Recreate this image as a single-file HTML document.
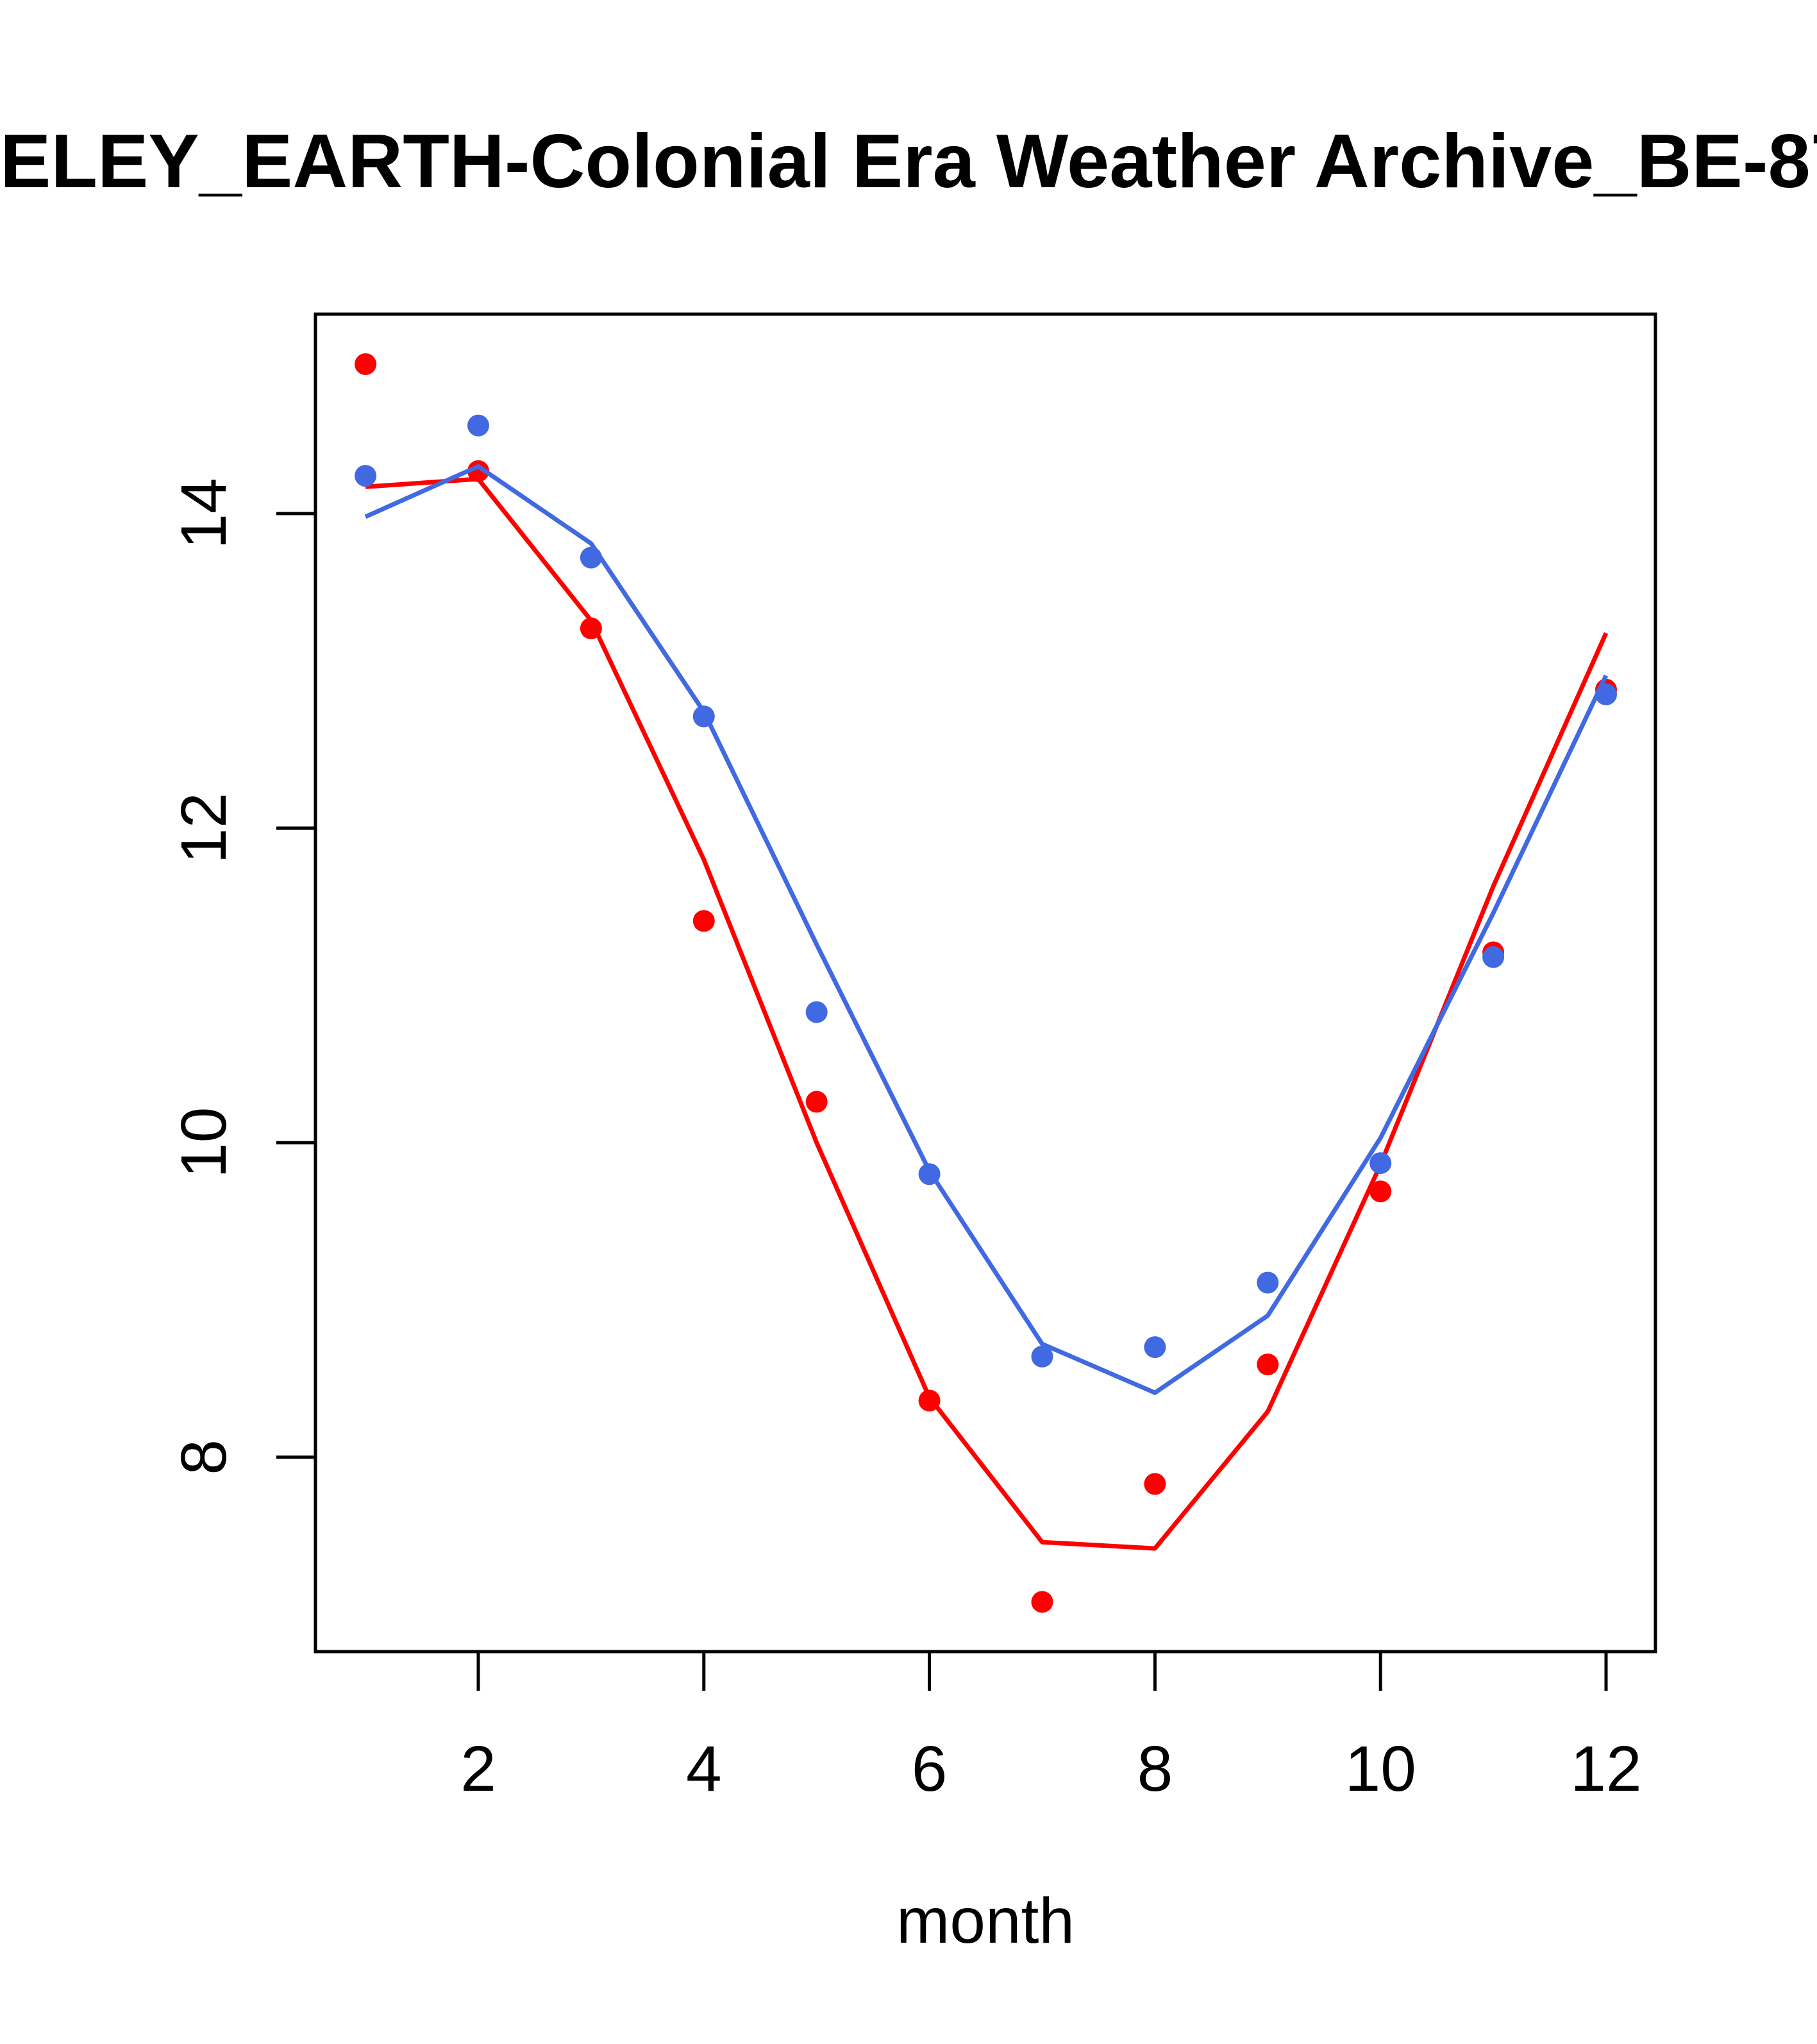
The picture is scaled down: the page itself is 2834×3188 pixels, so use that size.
<!DOCTYPE html>
<html><head><meta charset="utf-8"><style>
html,body{margin:0;padding:0;background:#fff;}
svg{display:block;font-family:"Liberation Sans",Arial,sans-serif;}
</style></head><body>
<svg id="chart" width="2834" height="3188" viewBox="0 0 2834 3188">
<rect width="2834" height="3188" fill="#fff"/>
<text id="title" x="-337" y="292" font-size="119" font-weight="bold" text-anchor="start">BERKELEY_EARTH-Colonial Era Weather Archive_BE-875632</text>
<rect x="492" y="490" width="2090" height="2086" fill="none" stroke="#000" stroke-width="5"/>
<g id="xaxis"></g>
<g id="yaxis"></g>
<text x="1537" y="3030" font-size="100" text-anchor="middle">month</text>
<g id="series"></g>
</svg>
<script>
const months=[1,2,3,4,5,6,7,8,9,10,11,12];
const redPoints=[14.95,14.27,13.27,11.41,10.26,8.36,7.08,7.83,8.59,9.69,11.21,12.88];
const redLine=[14.17,14.22,13.32,11.80,10.00,8.38,7.46,7.42,8.29,9.86,11.63,13.24];
const bluePoints=[14.24,14.56,13.72,12.71,10.83,9.80,8.64,8.70,9.11,9.87,11.18,12.85];
const blueLine=[13.98,14.30,13.81,12.74,11.26,9.82,8.72,8.41,8.90,10.03,11.46,12.97];
const xTicks=[2,4,6,8,10,12];
const yTicks=[8,10,12,14];

const NS="http://www.w3.org/2000/svg";
try{const t=document.getElementById('title');const w=t.getSubStringLength(0,4);if(w>0)t.setAttribute('x',-w);}catch(e){}
function X(m){return 746+(m-2)*175.9;}
function Y(v){return 801+(14-v)*245.3;}
function mk(tag,attrs,parent){const e=document.createElementNS(NS,tag);for(const k in attrs)e.setAttribute(k,attrs[k]);parent.appendChild(e);return e;}

const xa=document.getElementById('xaxis');
mk('line',{x1:X(2),x2:X(12),y1:2576,y2:2576,stroke:'#000','stroke-width':5},xa);
xTicks.forEach(t=>{
  const l=mk('line',{x1:X(t),x2:X(t),y1:2576,y2:2637,stroke:'#000','stroke-width':5},xa);
  
  
  const tx=mk('text',{x:X(t),y:2793,'font-size':100,'text-anchor':'middle'},xa);
  tx.textContent=t;
  
  
});
const ya=document.getElementById('yaxis');
mk('line',{x1:492,x2:492,y1:Y(8),y2:Y(14),stroke:'#000','stroke-width':5},ya);
yTicks.forEach(t=>{
  const l=mk('line',{x1:431,x2:492,y1:Y(t),y2:Y(t),stroke:'#000','stroke-width':5},ya);
  
  
  const tx=mk('text',{x:0,y:0,'font-size':100,'text-anchor':'middle',transform:`translate(352,${Y(t)}) rotate(-90)`},ya);
  tx.textContent=t;
  
  
});

const sg=document.getElementById('series');
function drawLine(vals,color,name){
  const p=mk('polyline',{points:vals.map((v,i)=>X(months[i])+','+Y(v)).join(' '),fill:'none',stroke:color,'stroke-width':7,'stroke-linejoin':'round'},sg);
  
  
}
function drawPts(vals,color,name){
  vals.forEach((v,i)=>{
    const c=mk('circle',{cx:X(months[i]),cy:Y(v),r:17,fill:color},sg);
    
    
  });
}
drawLine(redLine,'#ff0000','red-fit-line');
drawPts(redPoints,'#ff0000','red-point');
drawLine(blueLine,'#4169e1','blue-fit-line');
drawPts(bluePoints,'#4169e1','blue-point');
</script>
</body></html>
